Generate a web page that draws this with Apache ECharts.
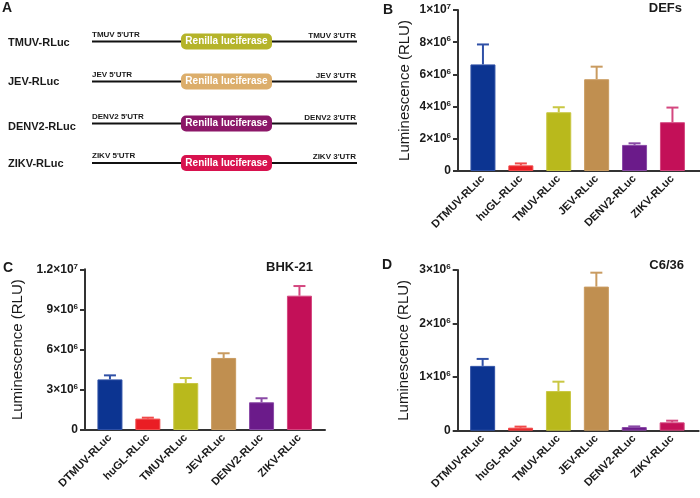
<!DOCTYPE html>
<html>
<head>
<meta charset="utf-8">
<script src="https://cdn.jsdelivr.net/npm/echarts@6/dist/echarts.min.js"></script>
<style>
  html, body { margin: 0; padding: 0; background: #fff; }
  #chart { width: 700px; height: 498px; }
</style>
</head>
<body>
<div id="chart"></div>
<script>
// reporter constructs measured in each cell line
const categories = ['DTMUV-RLuc', 'huGL-RLuc', 'TMUV-RLuc', 'JEV-RLuc', 'DENV2-RLuc', 'ZIKV-RLuc'];

// DEFs
const defsMean = [6.62e6, 0.35e6, 3.65e6, 5.70e6, 1.62e6, 3.03e6];
const defsSd   = [1.24e6, 0.12e6, 0.31e6, 0.78e6, 0.10e6, 0.91e6];
// BHK-21
const bhkMean = [3.78e6, 0.85e6, 3.51e6, 5.38e6, 2.07e6, 10.03e6];
const bhkSd   = [0.30e6, 0.07e6, 0.37e6, 0.35e6, 0.30e6, 0.72e6];
// C6/36
const c636Mean = [1.21e6, 0.056e6, 0.74e6, 2.69e6, 0.068e6, 0.156e6];
const c636Sd   = [0.13e6, 0.020e6, 0.175e6, 0.26e6, 0.012e6, 0.031e6];

// panel A schematic
const constructs = ['TMUV-RLuc', 'JEV-RLuc', 'DENV2-RLuc', 'ZIKV-RLuc'];
const utrNames = ['TMUV', 'JEV', 'DENV2', 'ZIKV'];

const barColors = ['#0c3491', '#ea1d24', '#b9b91c', '#c08f50', '#6b1b8a', '#c31058'];
const errColors = ['#2f50a6', '#f04a4a', '#c9c743', '#c99b60', '#8a4aa6', '#d4477f'];
const boxColors = ['#b5b42a', '#dcae6b', '#8c1768', '#d8124e'];

const AXIS = '#333';
const TXT = '#1a1a1a';
const FONT = "'Liberation Sans', Arial, sans-serif";

function sciLabel(v) {
    if (v === 0) return '{b|0}';
    const e = Math.floor(Math.log10(v) + 1e-9);
    const m = +(v / Math.pow(10, e)).toFixed(2);
    return '{b|' + m + '×10}{s|' + e + '}';
}

const panels = [
    { mean: defsMean, sd: defsSd, max: 1e7, interval: 2e6, nameGap: 46,
      bar: { left: 464, top: 10, width: 227.4, height: 161 },
      line: { left: 458, top: 10, width: 242, height: 161 } },
    { mean: bhkMean, sd: bhkSd, max: 1.2e7, interval: 3e6, nameGap: 60,
      bar: { left: 91, top: 269.3, width: 227.4, height: 160.7 },
      line: { left: 85, top: 269.3, width: 240, height: 160.7 } },
    { mean: c636Mean, sd: c636Sd, max: 3e6, interval: 1e6, nameGap: 46,
      bar: { left: 463.7, top: 270, width: 227.4, height: 160.7 },
      line: { left: 457.7, top: 270, width: 241, height: 160.7 } }
];

const grid = [], xAxis = [], yAxis = [], series = [];

panels.forEach((p, k) => {
    const g = 2 * k;
    grid.push(p.bar, p.line);

    // bar grid
    xAxis.push({
        gridIndex: g, type: 'category', data: categories,
        axisLine: { lineStyle: { color: AXIS, width: 2 } },
        axisTick: { alignWithLabel: true, length: 6, lineStyle: { color: AXIS, width: 2 } },
        axisLabel: { rotate: 45, margin: 6, fontSize: 11, fontWeight: 'bold', color: TXT, fontFamily: FONT }
    });
    yAxis.push({
        gridIndex: g, type: 'value', min: 0, max: p.max, interval: p.interval, offset: 6,
        name: 'Luminescence (RLU)', nameLocation: 'middle', nameGap: p.nameGap,
        nameTextStyle: { fontSize: 15, color: TXT, fontFamily: FONT },
        axisLine: { show: true, lineStyle: { color: AXIS, width: 2 } },
        axisTick: { show: true, length: 5, lineStyle: { color: AXIS, width: 2 } },
        splitLine: { show: false },
        axisLabel: {
            margin: 7, formatter: sciLabel,
            rich: {
                b: { fontSize: 12, fontWeight: 'bold', color: TXT, fontFamily: FONT },
                s: { fontSize: 8, fontWeight: 'bold', color: TXT, fontFamily: FONT, padding: [0, 0, 6, 0] }
            }
        }
    });

    // extended baseline
    xAxis.push({
        gridIndex: g + 1, type: 'value', min: 0, max: 1,
        axisLine: { show: true, onZero: false, lineStyle: { color: AXIS, width: 2 } },
        axisTick: { show: false }, axisLabel: { show: false }, splitLine: { show: false }
    });
    yAxis.push({ gridIndex: g + 1, type: 'value', show: false, min: 0, max: 1 });

    series.push({
        type: 'bar', xAxisIndex: g, yAxisIndex: g, barWidth: 25, z: 2,
        data: p.mean.map((v, i) => ({
            value: v,
            itemStyle: { color: barColors[i], borderColor: errColors[i], borderWidth: 1 }
        }))
    });

    series.push({
        type: 'custom', xAxisIndex: g, yAxisIndex: g, z: 3,
        encode: { x: 0, y: 2 },
        data: p.mean.map((v, i) => [i, v, v + p.sd[i]]),
        renderItem: function (params, api) {
            const i = api.value(0);
            const base = api.coord([i, api.value(1)]);
            const hi = api.coord([i, api.value(2)]);
            const st = { stroke: errColors[params.dataIndex], lineWidth: 2 };
            return {
                type: 'group',
                children: [
                    { type: 'line', shape: { x1: base[0], y1: base[1], x2: hi[0], y2: hi[1] }, style: st },
                    { type: 'line', shape: { x1: hi[0] - 6, y1: hi[1], x2: hi[0] + 6, y2: hi[1] }, style: st }
                ]
            };
        }
    });
});

// texts and panel A drawing
const graphic = [];
function txt(x, y, text, size, align, extra) {
    graphic.push({
        type: 'text', x: x, y: y, z: 10,
        style: Object.assign({
            text: text, fontSize: size, fontWeight: 'bold', fill: TXT, fontFamily: FONT,
            align: align || 'left', verticalAlign: 'middle'
        }, extra || {})
    });
}
txt(2, 8, 'A', 14);
txt(383, 10, 'B', 14);
txt(3, 268, 'C', 14);
txt(382, 265, 'D', 14);
txt(682, 8, 'DEFs', 13, 'right');
txt(313, 267, 'BHK-21', 13, 'right');
txt(684, 265, 'C6/36', 13, 'right');

const rowY = [41.5, 81.5, 123.5, 163];
const labelY = [43.3, 82.3, 126.7, 164.3];
constructs.forEach((name, i) => {
    const y = rowY[i];
    txt(8, labelY[i], name, 11);
    graphic.push({
        type: 'line', z: 5,
        shape: { x1: 92, y1: y, x2: 357, y2: y },
        style: { stroke: '#111', lineWidth: 2 }
    });
    graphic.push({
        type: 'rect', z: 6,
        shape: { x: 181, y: y - 8, width: 91, height: 16, r: 5 },
        style: { fill: boxColors[i] }
    });
    txt(226.5, y, 'Renilla luciferase', 10, 'center',
        { fill: '#fff', fontFamily: "'Liberation Sans Narrow', 'Liberation Sans', Arial, sans-serif" });
    txt(92, y - 7, utrNames[i] + " 5'UTR", 8, 'left');
    txt(356, y - 6, utrNames[i] + " 3'UTR", 8, 'right');
});

const chart = echarts.init(document.getElementById('chart'), null, { renderer: 'canvas' });
chart.setOption({
    backgroundColor: '#fff',
    animation: false,
    grid: grid,
    xAxis: xAxis,
    yAxis: yAxis,
    series: series,
    graphic: graphic
});
</script>
</body>
</html>
